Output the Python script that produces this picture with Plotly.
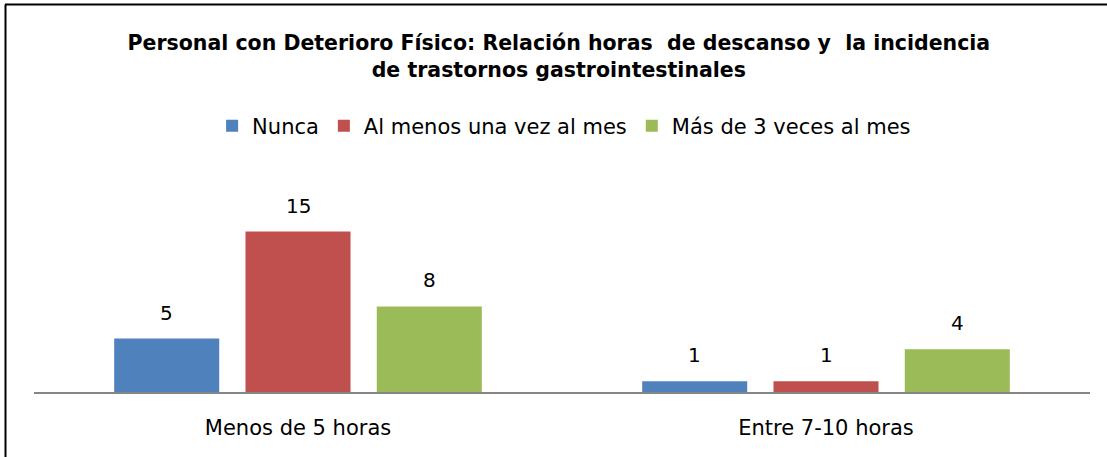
import plotly.graph_objects as go

categories = ["Menos de 5 horas", "Entre 7-10 horas"]
series_names = ["Nunca", "Al menos una vez al mes", "Más de 3 veces al mes"]
nunca = [5, 1]
al_menos = [15, 1]
mas_de_3 = [8, 4]
colors = ["#4F81BD", "#C0504D", "#9BBB59"]

W, H = 1107, 457
ml, mr, mt, mb = 34, 17, 170, 65
body_font = "DejaVu Sans, Verdana, sans-serif"

fig = go.Figure()
all_series = [nunca, al_menos, mas_de_3]
for name, vals, c in zip(series_names, all_series, colors):
    fig.add_trace(go.Bar(
        x=categories, y=vals, name=name,
        marker=dict(color=c, line=dict(width=0)),
        hoverinfo="x+y+name",
    ))

pw = W - ml - mr
ph = H - mt - mb
cat_px = pw / len(categories)
slot_px = cat_px * (1 - 0.254) / len(all_series)

# value labels above bars
for i, vals in enumerate(all_series):
    for cat, v in zip(categories, vals):
        fig.add_annotation(
            x=cat, y=v, xref="x", yref="y", text=str(v), showarrow=False,
            xshift=(i - 1) * slot_px, yanchor="bottom", yshift=12,
            font=dict(family=body_font, size=20, color="#000000"),
        )

def px_x(p):
    return (p - ml) / pw

def px_y(p):
    return (H - mb - p) / ph

fig.update_layout(
    width=W, height=H,
    margin=dict(l=ml, r=mr, t=mt, b=mb),
    paper_bgcolor="white", plot_bgcolor="white",
    barmode="group", bargap=0.254, bargroupgap=0.2,
    showlegend=True,
    legend=dict(orientation="h", x=0.502, xanchor="center", xref="paper",
                y=px_y(126), yanchor="middle",
                font=dict(family=body_font, size=21, color="#000000"),
                itemwidth=30, tracegroupgap=0),
    title=dict(
        text="Personal con Deterioro Físico: Relación horas&nbsp; de descanso y&nbsp; la incidencia<br>de trastornos gastrointestinales",
        x=0.497, xanchor="center", xref="paper",
        y=1 - 50 / H, yanchor="middle",
        font=dict(family="DejaVu Sans, Arial, sans-serif", size=20.5, color="#000000", weight="bold"),
    ),
    xaxis=dict(showgrid=False, showline=True, linecolor="#868686", linewidth=1.5,
               ticks="", tickfont=dict(family=body_font, size=21, color="#000000"),
               ticklabelstandoff=16, zeroline=False),
    yaxis=dict(range=[0, ph / 10.7], visible=False, showgrid=False, zeroline=False),
    font=dict(family=body_font),
)

# chart frame (only top and left edges visible in the reference crop)
fig.add_shape(type="line", xref="paper", yref="paper",
              x0=px_x(5), x1=px_x(1107), y0=px_y(4.5), y1=px_y(4.5),
              line=dict(color="#000000", width=2))
fig.add_shape(type="line", xref="paper", yref="paper",
              x0=px_x(5.5), x1=px_x(5.5), y0=px_y(4.5), y1=px_y(457),
              line=dict(color="#000000", width=2))

fig.write_html("out.html", config={"displayModeBar": False},
               post_script="document.body.style.margin='0';document.body.style.overflow='hidden';")
